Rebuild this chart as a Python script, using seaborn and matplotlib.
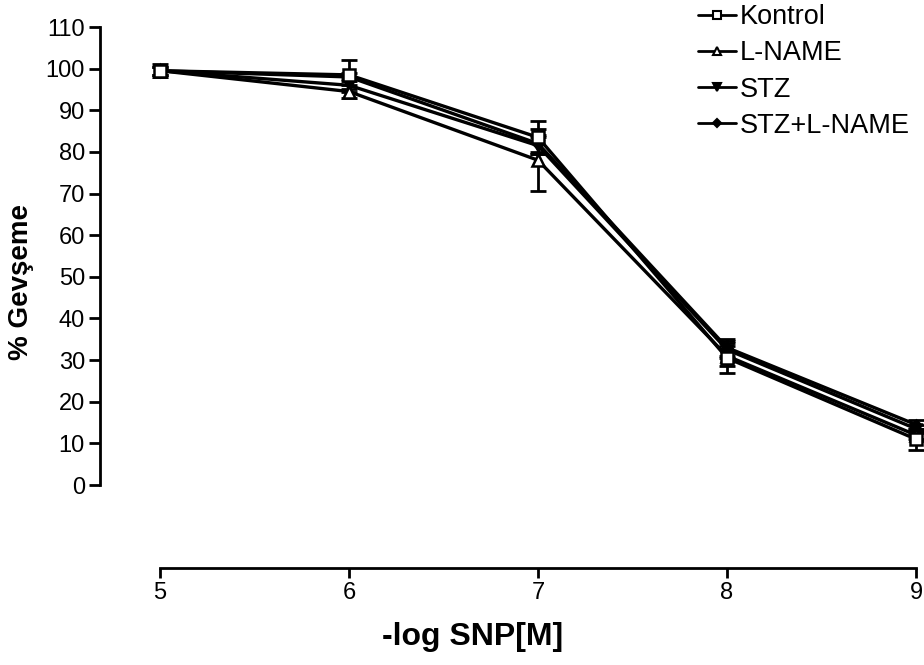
import matplotlib
matplotlib.use("Agg")
import matplotlib.pyplot as plt
from matplotlib.lines import Line2D
from matplotlib.legend_handler import HandlerLine2D
import seaborn as sns
import pandas as pd
import numpy as np

sns.set_style("ticks")
plt.rcParams['font.family'] = ['Liberation Sans', 'DejaVu Sans']
plt.rcParams['text.color'] = 'black'
plt.rcParams['axes.labelcolor'] = 'black'
plt.rcParams['axes.edgecolor'] = 'black'

x_vals = [5, 6, 7, 8, 9]
groups = ["Kontrol", "L-NAME", "STZ", "STZ+L-NAME"]
kontrol = [99.5, 98.5, 83.5, 30.5, 11.0]
kontrol_err = [1.5, 3.5, 4.0, 3.5, 2.5]
lname = [99.5, 94.5, 78.0, 31.0, 12.0]
lname_err = [1.0, 1.5, 7.5, 2.5, 1.0]
stz = [99.5, 96.0, 81.5, 32.5, 13.5]
stz_err = [1.0, 1.5, 2.0, 2.0, 1.0]
stzl = [99.5, 98.0, 82.0, 33.0, 14.5]
stzl_err = [1.0, 1.0, 2.0, 2.0, 1.0]
y_ticks = [0, 10, 20, 30, 40, 50, 60, 70, 80, 90, 100, 110]

series = {"Kontrol": (kontrol, kontrol_err), "L-NAME": (lname, lname_err),
          "STZ": (stz, stz_err), "STZ+L-NAME": (stzl, stzl_err)}
styles = {"Kontrol": dict(marker="s", mfc="white", ms=8),
          "L-NAME": dict(marker="^", mfc="white", ms=8),
          "STZ": dict(marker="v", mfc="black", ms=7.5),
          "STZ+L-NAME": dict(marker="D", mfc="black", ms=5.5)}

rows = []
for g in groups:
    vals, errs = series[g]
    for xv, v, e in zip(x_vals, vals, errs):
        rows.append(dict(x=xv, y=v, err=e, group=g))
df = pd.DataFrame(rows)

fig = plt.figure(figsize=(9.24, 6.65), dpi=100)
ax = fig.add_axes([160/924, 180/665, 756/924, 458/665])

order = ["STZ+L-NAME", "STZ", "L-NAME", "Kontrol"]
for g in order:
    sub = df[df.group == g]
    st = styles[g]
    ax.errorbar(sub.x, sub.y, yerr=sub.err, fmt="none", ecolor="black",
                elinewidth=2, capsize=6, capthick=2, clip_on=False, zorder=2)
    sns.lineplot(data=sub, x="x", y="y", ax=ax, color="black", lw=2.4,
                 marker=st["marker"], markersize=st["ms"],
                 markerfacecolor=st["mfc"], markeredgecolor="black",
                 markeredgewidth=1.8, clip_on=False, zorder=3, legend=False,
                 errorbar=None)

ax.set_xlim(5, 9)
ax.set_ylim(0, 110)
ax.set_xticks(x_vals)
ax.set_yticks(y_ticks)
ax.spines['top'].set_visible(False)
ax.spines['right'].set_visible(False)
ax.spines['left'].set_position(('outward', 43))
ax.spines['bottom'].set_position(('outward', 60))
for s in ['left', 'bottom']:
    ax.spines[s].set_linewidth(2)
    ax.spines[s].set_color('black')
ax.tick_params(axis='y', direction='out', length=8, width=2,
               labelsize=17, colors='black', pad=3)
ax.tick_params(axis='x', direction='out', length=7, width=2,
               labelsize=17, colors='black', pad=3)
ax.set_xlabel("-log SNP[M]", fontsize=23, fontweight='bold', color='black')
ax.set_ylabel("% Gevşeme", fontsize=20, fontweight='bold', color='black')
ax.xaxis.set_label_coords((473 - 160) / 756, (485 - 622) / 458)
ax.yaxis.set_label_coords((34 - 160) / 756, (485 - 282) / 458)


class MarkerFirstHandler(HandlerLine2D):
    def get_xdata(self, legend, xdescent, ydescent, width, height, fontsize):
        xdata = np.array([-xdescent, -xdescent + width], float)
        xdata_marker = np.array([-xdescent + 0.15 * width])
        return xdata, xdata_marker


handles = []
for g in groups:
    st = styles[g]
    handles.append(Line2D([], [], color="black", lw=2, marker=st["marker"],
                          markersize=st["ms"] * 0.8, markerfacecolor=st["mfc"],
                          markeredgecolor="black", markeredgewidth=1.5))
leg = fig.legend(handles, groups, loc="upper left",
                 bbox_to_anchor=(698/924, 1.0 - 4/665), frameon=False,
                 fontsize=19.5, handlelength=1.4, handletextpad=0.15,
                 labelspacing=0.38, borderaxespad=0, borderpad=0,
                 labelcolor='black',
                 handler_map={Line2D: MarkerFirstHandler(numpoints=1)})

fig.savefig("out.png", dpi=100, facecolor="white")
